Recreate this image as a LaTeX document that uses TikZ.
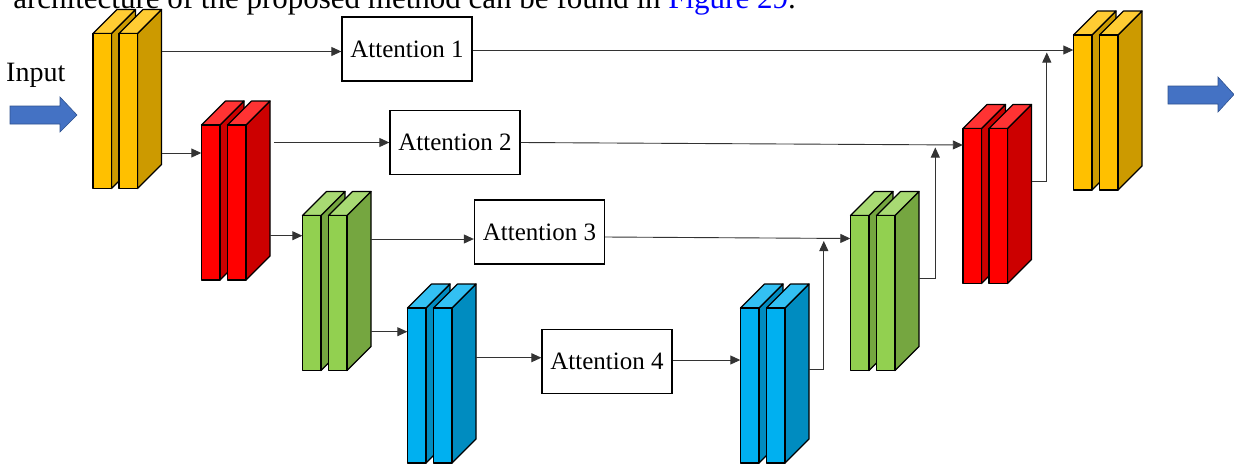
\documentclass[tikz,border=0pt]{standalone}
\usepackage{fontspec}
\setmainfont{Liberation Serif}
\usetikzlibrary{arrows.meta}

% slab colours: front, top, side
\definecolor{yfront}{HTML}{FFC000}\definecolor{ytop}{HTML}{FFCC33}\definecolor{yside}{HTML}{CC9A00}
\definecolor{rfront}{HTML}{FF0000}\definecolor{rtop}{HTML}{FF3333}\definecolor{rside}{HTML}{CC0000}
\definecolor{gfront}{HTML}{92D050}\definecolor{gtop}{HTML}{A8DA73}\definecolor{gside}{HTML}{75A640}
\definecolor{bfront}{HTML}{00B0F0}\definecolor{btop}{HTML}{33C0F3}\definecolor{bside}{HTML}{008CC0}
\definecolor{arrowfill}{HTML}{4472C4}\definecolor{arrowline}{HTML}{2F528F}
\definecolor{linkblue}{HTML}{0000FF}

% a feature block: two slabs; #1 name, #2 x of front-left, #3 y of front-top, #4 colour prefix
\newcommand{\featblock}[4]{%
  \foreach \dx in {0,26}{%
    \begin{scope}[shift={(#2+\dx,#3)}]
      \filldraw[slabline, fill=#4side] (18.5,0) -- (42.5,-24) -- (42.5,131) -- (18.5,155) -- cycle;
      \filldraw[slabline, fill=#4top] (0,0) -- (24,-24) -- (42.5,-24) -- (18.5,0) -- cycle;
      \filldraw[slabline, fill=#4front] (0,0) rectangle (18.5,155);
    \end{scope}
  }%
  \node[blockbox] (#1) at (#2+34.25,#3+65.5) {};
}

\begin{document}
\begin{tikzpicture}[x=1pt,y=-1pt,
  slabline/.style={draw=black, line width=1.2pt, line join=round},
  blockbox/.style={inner sep=0pt, minimum width=68.5pt, minimum height=179pt},
  attbox/.style={draw=black, line width=1.3pt, fill=white, minimum width=130pt,
    minimum height=64pt, inner sep=0pt, font=\fontsize{25}{30}\selectfont},
  conn/.style={draw=black!80, line width=0.9pt, -{Triangle[length=10pt,width=9pt]}},
  bigarrow/.style={fill=arrowfill, draw=arrowline, line width=0.6pt, line join=miter}]

\useasboundingbox (0,0) rectangle (1234,464);
\clip (0,0) rectangle (1234,464);

% running text line above the figure
\node[anchor=base east, inner sep=0pt, font=\fontsize{31}{36}\selectfont] (caption) at (796,8)
  {architecture of the proposed method can be found in \textcolor{linkblue}{Figure 29}.};

% input / output arrows
\node[anchor=base west, inner sep=0pt, font=\fontsize{28}{32}\selectfont] (inlabel) at (6,81) {Input};
\filldraw[bigarrow] (10,106) -- (60,106) -- (60,97) -- (77,115) -- (60,132) -- (60,124) -- (10,124) -- cycle;
\filldraw[bigarrow] (1168,86) -- (1218,86) -- (1218,77) -- (1234,94.5) -- (1218,112) -- (1218,104) -- (1168,104) -- cycle;

% encoder
\featblock{e1}{93}{33.5}{y}
\featblock{e2}{201.5}{125}{r}
\featblock{e3}{302.5}{215.5}{g}
\featblock{e4}{407.5}{308}{b}
% decoder
\featblock{d4}{740.5}{308}{b}
\featblock{d3}{850.5}{215.5}{g}
\featblock{d2}{963}{128.5}{r}
\featblock{d1}{1073.5}{35}{y}

% attention gates
\node[attbox] (a1) at (407,49) {Attention 1};
\node[attbox] (a2) at (455,142.5) {Attention 2};
\node[attbox] (a3) at (539.5,232) {Attention 3};
\node[attbox] (a4) at (607,361.5) {Attention 4};

% connection points
\coordinate (e2in) at ([yshift=37.5pt]e2.west);
\coordinate (e3in) at ([yshift=45.3pt]e3.west);
\coordinate (e4in) at ([yshift=41.8pt]e4.west);
\coordinate (a1in) at ([yshift=-2.5pt]a1.west);
\coordinate (a3in) at ([yshift=-7pt]a3.west);
\coordinate (a3out) at ([yshift=-5pt]a3.east);
\coordinate (a4in) at ([yshift=3.8pt]a4.west);
\coordinate (a4out) at ([yshift=1.5pt]a4.east);
\coordinate (d1in) at ([yshift=50.5pt]d1.west);
\coordinate (d2in) at ([yshift=49pt]d2.west);
\coordinate (d3in) at ([yshift=42.5pt]d3.west);
\coordinate (d4out) at ([yshift=4pt]d4.east);
\coordinate (d3out) at ([yshift=3pt]d3.east);
\coordinate (d2out) at ([yshift=13pt]d2.east);
\coordinate (j3) at ([xshift=-26.5pt,yshift=-2.5pt]d3in);
\coordinate (j2) at ([xshift=-27.5pt,yshift=-2.5pt]d2in);
\coordinate (j1) at ([xshift=-26.5pt,yshift=-2.5pt]d1in);

% contracting path
\draw[conn] (e1.east |- e2in) -- (e2in);
\draw[conn] (e2.east |- e3in) -- (e3in);
\draw[conn] (e3.east |- e4in) -- (e4in);

% skip connections through the attention gates
\draw[conn] (e1.east |- a1in) -- (a1in);
\draw[conn] (a1.east |- d1in) -- (d1in);
\draw[conn, shorten <=4pt] (e2.east |- a2.west) -- (a2.west);
\draw[conn] (a2.east) -- (d2in);
\draw[conn] (e3.east |- a3in) -- (a3in);
\draw[conn] (a3out) -- (d3in);
\draw[conn] (e4.east |- a4in) -- (a4in);
\draw[conn] (a4out) -- (d4.west |- a4out);

% expanding path
\draw[conn] (d4out) -| (j3);
\draw[conn] (d3out) -| (j2);
\draw[conn] (d2out) -| (j1);

\end{tikzpicture}
\end{document}
